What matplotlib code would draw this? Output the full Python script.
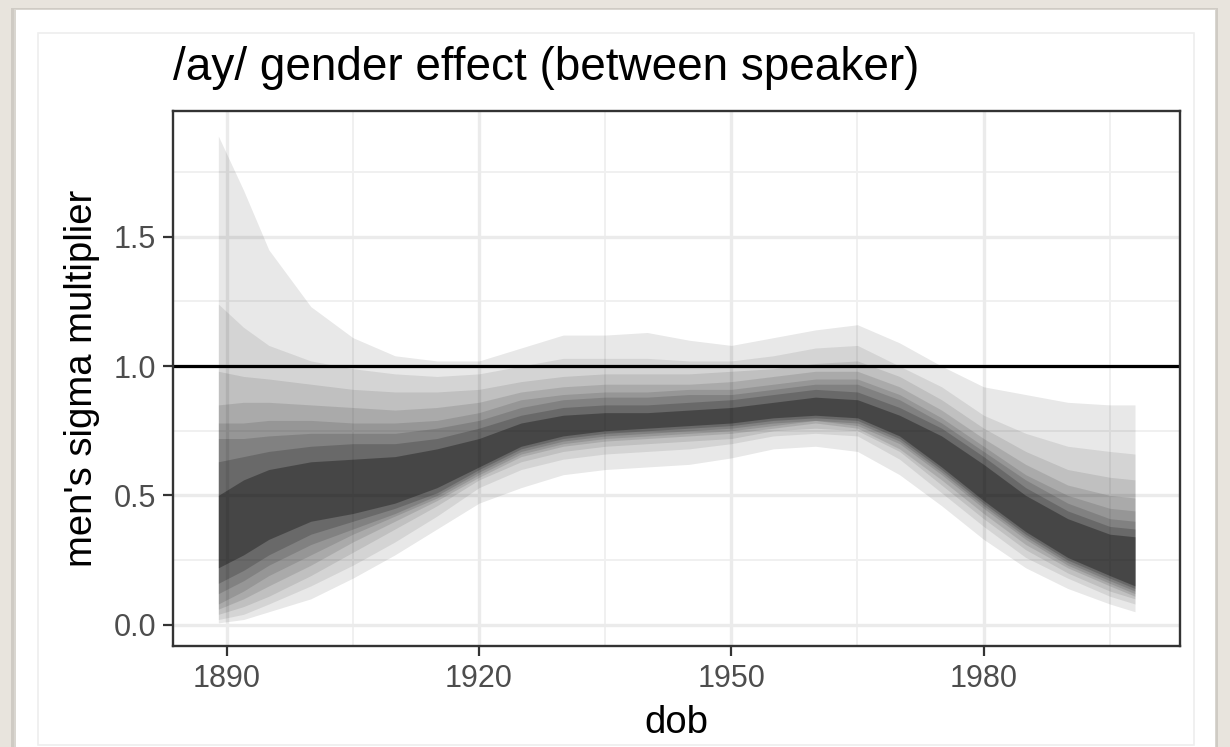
import matplotlib
matplotlib.use("Agg")
import matplotlib.pyplot as plt
from matplotlib.patches import Rectangle

plt.rcParams['font.family'] = ['Liberation Sans', 'DejaVu Sans']

# ---------------- data ----------------
years = [1889, 1892, 1895, 1900, 1905, 1910, 1915, 1920, 1925, 1930, 1935, 1940,
         1945, 1950, 1955, 1960, 1965, 1970, 1975, 1980, 1985, 1990, 1995, 1998]

# outermost (lightest) band -> innermost (darkest) band
band1_hi = [1.89, 1.68, 1.45, 1.23, 1.11, 1.04, 1.02, 1.02, 1.07, 1.12, 1.12, 1.13,
            1.10, 1.08, 1.11, 1.14, 1.16, 1.09, 1.00, 0.92, 0.89, 0.86, 0.85, 0.85]
band1_lo = [0.007, 0.02, 0.05, 0.10, 0.18, 0.27, 0.37, 0.47, 0.53, 0.58, 0.60, 0.61,
            0.62, 0.645, 0.68, 0.69, 0.67, 0.58, 0.46, 0.33, 0.22, 0.14, 0.08, 0.05]
band2_hi = [1.24, 1.15, 1.08, 1.02, 0.99, 0.97, 0.96, 0.97, 1.00, 1.03, 1.03, 1.03,
            1.02, 1.02, 1.04, 1.07, 1.08, 1.00, 0.92, 0.81, 0.74, 0.69, 0.67, 0.66]
band2_lo = [0.02, 0.04, 0.08, 0.15, 0.23, 0.32, 0.42, 0.53, 0.60, 0.64, 0.66, 0.67,
            0.68, 0.70, 0.73, 0.74, 0.73, 0.64, 0.51, 0.38, 0.26, 0.18, 0.11, 0.08]
band3_hi = [0.98, 0.96, 0.95, 0.93, 0.91, 0.90, 0.90, 0.91, 0.94, 0.96, 0.97, 0.97,
            0.97, 0.98, 0.99, 1.01, 1.02, 0.96, 0.87, 0.76, 0.67, 0.60, 0.57, 0.56]
band3_lo = [0.04, 0.07, 0.11, 0.19, 0.28, 0.37, 0.46, 0.56, 0.63, 0.67, 0.69, 0.70,
            0.71, 0.72, 0.75, 0.76, 0.75, 0.67, 0.54, 0.41, 0.29, 0.20, 0.13, 0.10]
band4_hi = [0.85, 0.86, 0.86, 0.85, 0.84, 0.83, 0.84, 0.86, 0.90, 0.92, 0.93, 0.93,
            0.93, 0.94, 0.96, 0.98, 0.98, 0.92, 0.83, 0.72, 0.62, 0.54, 0.50, 0.49]
band4_lo = [0.06, 0.10, 0.15, 0.23, 0.32, 0.40, 0.48, 0.57, 0.65, 0.69, 0.71, 0.72,
            0.73, 0.74, 0.76, 0.78, 0.76, 0.68, 0.56, 0.43, 0.31, 0.22, 0.15, 0.11]
band5_hi = [0.78, 0.78, 0.79, 0.79, 0.78, 0.78, 0.79, 0.82, 0.87, 0.89, 0.90, 0.90,
            0.91, 0.91, 0.93, 0.95, 0.95, 0.89, 0.80, 0.69, 0.58, 0.50, 0.45, 0.44]
band5_lo = [0.08, 0.13, 0.19, 0.27, 0.35, 0.42, 0.49, 0.58, 0.66, 0.70, 0.72, 0.73,
            0.74, 0.75, 0.77, 0.79, 0.77, 0.70, 0.58, 0.45, 0.33, 0.23, 0.16, 0.12]
band6_hi = [0.72, 0.72, 0.73, 0.74, 0.74, 0.74, 0.76, 0.79, 0.84, 0.87, 0.88, 0.88,
            0.89, 0.89, 0.91, 0.93, 0.93, 0.87, 0.78, 0.67, 0.56, 0.47, 0.41, 0.40]
band6_lo = [0.12, 0.17, 0.23, 0.31, 0.37, 0.43, 0.50, 0.59, 0.67, 0.71, 0.73, 0.74,
            0.75, 0.76, 0.78, 0.79, 0.78, 0.71, 0.59, 0.46, 0.34, 0.24, 0.17, 0.13]
band7_hi = [0.63, 0.65, 0.67, 0.69, 0.70, 0.70, 0.72, 0.76, 0.81, 0.84, 0.85, 0.85,
            0.86, 0.87, 0.89, 0.91, 0.90, 0.84, 0.76, 0.65, 0.53, 0.44, 0.38, 0.37]
band7_lo = [0.16, 0.21, 0.27, 0.35, 0.40, 0.45, 0.51, 0.60, 0.68, 0.72, 0.74, 0.75,
            0.76, 0.77, 0.79, 0.80, 0.79, 0.72, 0.60, 0.47, 0.35, 0.25, 0.18, 0.14]
band8_hi = [0.50, 0.56, 0.60, 0.63, 0.64, 0.65, 0.68, 0.72, 0.78, 0.81, 0.82, 0.82,
            0.83, 0.84, 0.86, 0.88, 0.87, 0.81, 0.73, 0.62, 0.50, 0.41, 0.35, 0.34]
band8_lo = [0.22, 0.27, 0.33, 0.40, 0.43, 0.47, 0.53, 0.61, 0.69, 0.73, 0.75, 0.76,
            0.77, 0.78, 0.80, 0.81, 0.80, 0.73, 0.61, 0.48, 0.36, 0.26, 0.19, 0.15]

bands_hi = [band1_hi, band2_hi, band3_hi, band4_hi, band5_hi, band6_hi, band7_hi, band8_hi]
bands_lo = [band1_lo, band2_lo, band3_lo, band4_lo, band5_lo, band6_lo, band7_lo, band8_lo]

x_ticks = [1890, 1920, 1950, 1980]
x_ticklabels = ["1890", "1920", "1950", "1980"]
x_minor = [1905, 1935, 1965, 1995]
y_ticks = [0.0, 0.5, 1.0, 1.5]
y_ticklabels = ["0.0", "0.5", "1.0", "1.5"]
y_minor = [0.25, 0.75, 1.25, 1.75]
reference_level = 1.0

title = "/ay/ gender effect (between speaker)"
xlabel = "dob"
ylabel = "men's sigma multiplier"

# cumulative grey level reached inside each nested band
target_greys = [232, 213, 193, 172, 152, 131, 107, 72]

# ---------------- figure ----------------
W, H = 1230, 747
fig = plt.figure(figsize=(W / 100, H / 100), dpi=100)
fig.patch.set_facecolor("#E8E4DD")

bg = fig.add_axes([0, 0, 1, 1])
bg.set_xlim(0, W)
bg.set_ylim(H, 0)
bg.axis("off")
# card shadow, card, inner frame
bg.add_patch(Rectangle((11, 8), 1207, 760, facecolor="#CFCBC4", edgecolor="none"))
bg.add_patch(Rectangle((14, 9), 1202, 760, facecolor="#D9D6D0", edgecolor="none"))
bg.add_patch(Rectangle((16, 10), 1199, 760, facecolor="white", edgecolor="none"))
bg.add_patch(Rectangle((38, 33), 1156, 712, facecolor="white", edgecolor="#EEEEEE", lw=1.2))

L, R, T, B = 173, 1180, 111, 646
ax = fig.add_axes([L / W, 1 - B / H, (R - L) / W, (B - T) / H])
ax.set_facecolor("white")
ax.set_xlim(1883.61, 2003.35)
ax.set_ylim(-0.0824, 1.9865)

# grid
for xm in x_minor:
    ax.axvline(xm, color="#F0F0F0", lw=1.4, zorder=0)
for ym in y_minor:
    ax.axhline(ym, color="#F0F0F0", lw=1.4, zorder=0)
for xv in x_ticks:
    ax.axvline(xv, color="#EBEBEB", lw=2.4, zorder=0)
for yv in y_ticks:
    ax.axhline(yv, color="#EBEBEB", lw=2.4, zorder=0)

# nested ribbons (semi-transparent black layers)
prev = 255.0
for hi, lo, g in zip(bands_hi, bands_lo, target_greys):
    a = 1 - g / prev
    prev = g
    ax.fill_between(years, lo, hi, color="black", alpha=a, lw=0, zorder=2)

ax.axhline(reference_level, color="black", lw=2.3, zorder=3)

ax.set_xticks(x_ticks)
ax.set_xticklabels(x_ticklabels)
ax.set_yticks(y_ticks)
ax.set_yticklabels(y_ticklabels)
ax.tick_params(axis="both", length=7, width=1.6, color="#333333",
               labelcolor="#4D4D4D", labelsize=22)
ax.tick_params(axis="x", pad=6)
ax.tick_params(axis="y", pad=5)
for s in ax.spines.values():
    s.set_color("#333333")
    s.set_linewidth(1.7)
    s.set_zorder(5)

ax.set_xlabel(xlabel, fontsize=27.5, color="black", labelpad=8)
ax.set_ylabel(ylabel, fontsize=27.5, color="black", labelpad=10)

fig.text(L / W, 1 - 80 / H, title, fontsize=33, color="black",
         ha="left", va="baseline")

fig.savefig("out.png", dpi=100, facecolor=fig.get_facecolor())
